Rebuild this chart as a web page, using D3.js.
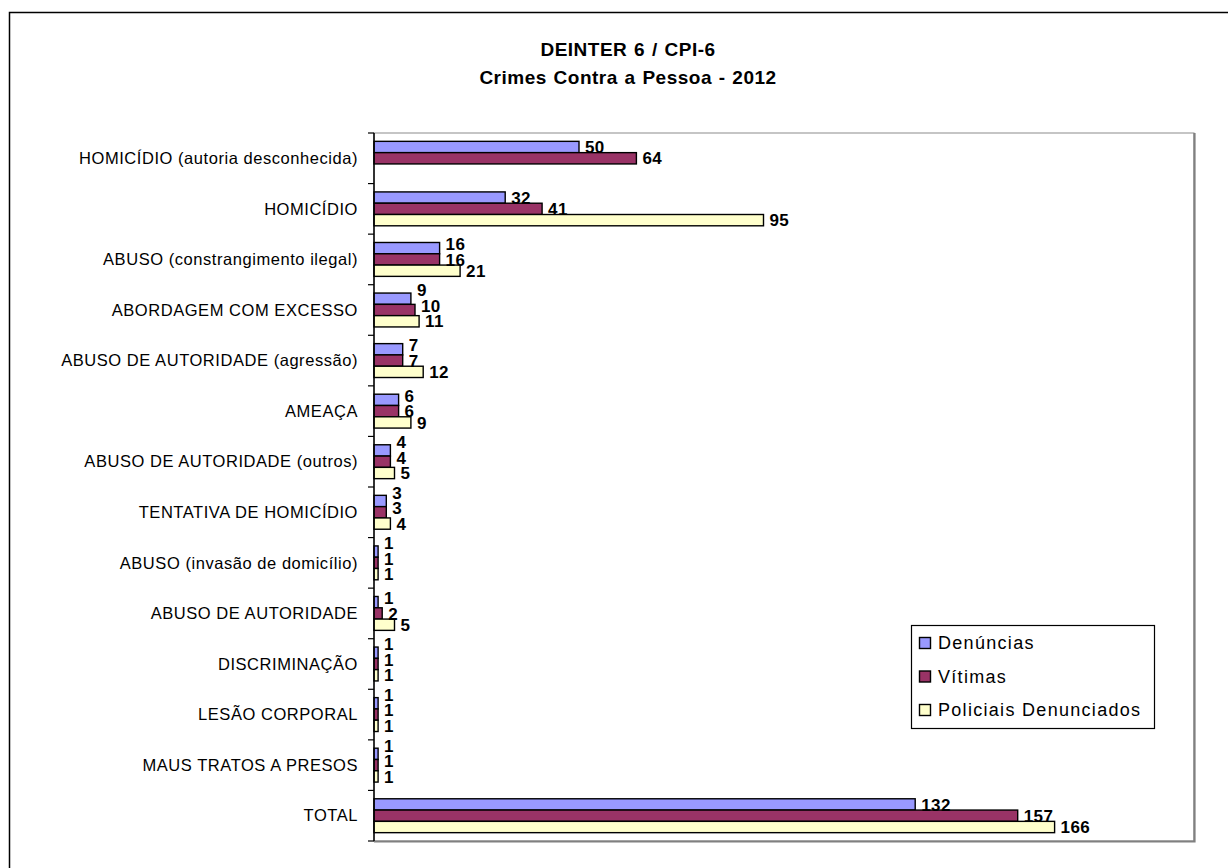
<!DOCTYPE html>
<html>
<head>
<meta charset="utf-8">
<script src="https://cdn.jsdelivr.net/npm/d3@7"></script>
<style>
  html, body { margin: 0; padding: 0; background: #fff; }
  svg { display: block; font-family: "Liberation Sans", Arial, sans-serif; }
</style>
</head>
<body>
<svg id="chart" width="1228" height="868"></svg>
<script>
const categories = [
  "HOMICÍDIO (autoria desconhecida)",
  "HOMICÍDIO",
  "ABUSO (constrangimento ilegal)",
  "ABORDAGEM COM EXCESSO",
  "ABUSO DE AUTORIDADE (agressão)",
  "AMEAÇA",
  "ABUSO DE AUTORIDADE (outros)",
  "TENTATIVA DE HOMICÍDIO",
  "ABUSO (invasão de domicílio)",
  "ABUSO DE AUTORIDADE",
  "DISCRIMINAÇÃO",
  "LESÃO CORPORAL",
  "MAUS TRATOS A PRESOS",
  "TOTAL"
];
const seriesNames = ["Denúncias", "Vítimas", "Policiais Denunciados"];
const denuncias = [50, 32, 16, 9, 7, 6, 4, 3, 1, 1, 1, 1, 1, 132];
const vitimas   = [64, 41, 16, 10, 7, 6, 4, 3, 1, 2, 1, 1, 1, 157];
const policiais = [null, 95, 21, 11, 12, 9, 5, 4, 1, 5, 1, 1, 1, 166];
const seriesColors = ["#9999FF", "#993366", "#FFFFCC"];
const titleLines = ["DEINTER 6 / CPI-6", "Crimes Contra a Pessoa - 2012"];

const seriesValues = [denuncias, vitimas, policiais];

const svg = d3.select("#chart");

// outer frame
svg.append("rect")
  .attr("x", 9.5).attr("y", 12.5)
  .attr("width", 1240).attr("height", 880)
  .attr("fill", "#fff").attr("stroke", "#000").attr("stroke-width", 1.5);

// title
svg.append("g").selectAll("text").data(titleLines).join("text")
  .attr("x", 628).attr("y", (d, i) => 56 + i * 27.5)
  .attr("text-anchor", "middle")
  .attr("font-weight", "bold").attr("font-size", 19)
  .attr("letter-spacing", 0.5).attr("word-spacing", 1)
  .attr("fill", "#000")
  .text(d => d);

const plot = { left: 374, top: 133, right: 1194, bottom: 841 };

const x = d3.scaleLinear().domain([0, 200]).range([plot.left, plot.right]);
const yBand = d3.scaleBand().domain(categories).range([plot.top, plot.bottom]).paddingInner(0).paddingOuter(0);
const y0 = d3.scaleBand().domain(categories).range([plot.top, plot.bottom]).paddingInner(0.33).paddingOuter(0.165);
const y1 = d3.scaleBand().domain(seriesNames).range([0, y0.bandwidth()]);
const color = d3.scaleOrdinal().domain(seriesNames).range(seriesColors);

// plot area frame
svg.append("rect")
  .attr("x", plot.left).attr("y", plot.top)
  .attr("width", plot.right - plot.left).attr("height", plot.bottom - plot.top)
  .attr("fill", "#fff").attr("stroke", "#8c8c8c").attr("stroke-width", 1);
svg.append("path")
  .attr("d", `M${plot.right + 0.5},${plot.top} V${plot.bottom + 0.5} H${plot.left}`)
  .attr("fill", "none").attr("stroke", "#808080").attr("stroke-width", 2.2);

// data rows
const rows = categories.map((c, i) => ({
  cat: c,
  vals: seriesNames.map((s, k) => ({ series: s, value: seriesValues[k][i] }))
}));

const groups = svg.append("g").selectAll("g").data(rows).join("g")
  .attr("transform", d => `translate(0,${y0(d.cat)})`);

groups.selectAll("rect").data(d => d.vals.filter(v => v.value != null)).join("rect")
  .attr("x", x(0))
  .attr("y", d => y1(d.series))
  .attr("width", d => x(d.value) - x(0))
  .attr("height", y1.bandwidth())
  .attr("fill", d => color(d.series))
  .attr("stroke", "#000").attr("stroke-width", 1.4);

// value labels with simple vertical collision avoidance (like Excel)
const minGap = 15.5;
groups.each(function(row) {
  const g = d3.select(this);
  const vals = row.vals.filter(v => v.value != null);
  const texts = g.selectAll("text.val").data(vals).join("text").attr("class", "val")
    .attr("x", d => x(d.value) + 6)
    .attr("dy", "0.36em")
    .attr("font-weight", "bold").attr("font-size", 17)
    .attr("letter-spacing", 0.4)
    .attr("fill", "#000")
    .text(d => d.value);
  const nodes = texts.nodes();
  const boxes = vals.map((d, i) => ({
    x0: x(d.value) + 6,
    x1: x(d.value) + 6 + nodes[i].getComputedTextLength(),
    y: y1(d.series) + y1.bandwidth() / 2
  }));
  for (let i = boxes.length - 2; i >= 0; i--) {
    const a = boxes[i], b = boxes[i + 1];
    const hOverlap = a.x0 < b.x1 && b.x0 < a.x1;
    if (hOverlap && b.y - a.y < minGap) a.y = b.y - minGap;
  }
  texts.attr("y", (d, i) => boxes[i].y);
});

// y axis
const yAxisG = svg.append("g").attr("transform", `translate(${plot.left},0)`);
yAxisG.append("line")
  .attr("x1", 0).attr("x2", 0).attr("y1", plot.top).attr("y2", plot.bottom)
  .attr("stroke", "#000").attr("stroke-width", 1.5);
const tickYs = categories.map(c => yBand(c)).concat([plot.bottom]);
yAxisG.selectAll("line.tick").data(tickYs).join("line").attr("class", "tick")
  .attr("x1", -6).attr("x2", 0)
  .attr("y1", d => d).attr("y2", d => d)
  .attr("stroke", "#000").attr("stroke-width", 1.2);
yAxisG.selectAll("text").data(categories).join("text")
  .attr("x", -16)
  .attr("y", d => yBand(d) + yBand.bandwidth() / 2)
  .attr("dy", "0.35em")
  .attr("text-anchor", "end")
  .attr("font-size", 16.5)
  .attr("letter-spacing", 0.55)
  .attr("fill", "#000")
  .text(d => d);

// legend
const legend = svg.append("g").attr("transform", "translate(911,625)");
legend.append("rect")
  .attr("x", 0.5).attr("y", 0.5).attr("width", 243).attr("height", 103)
  .attr("fill", "#fff").attr("stroke", "#000").attr("stroke-width", 1.2);
const li = legend.selectAll("g").data(seriesNames).join("g")
  .attr("transform", (d, i) => `translate(0,${18 + i * 33.5})`);
li.append("rect")
  .attr("x", 8.5).attr("y", -5.5).attr("width", 11).attr("height", 11)
  .attr("fill", d => color(d)).attr("stroke", "#000").attr("stroke-width", 1.4);
li.append("text")
  .attr("x", 27).attr("y", 0).attr("dy", "0.35em")
  .attr("font-size", 18).attr("letter-spacing", 1.3)
  .attr("fill", "#000")
  .text(d => d);
</script>
</body>
</html>
